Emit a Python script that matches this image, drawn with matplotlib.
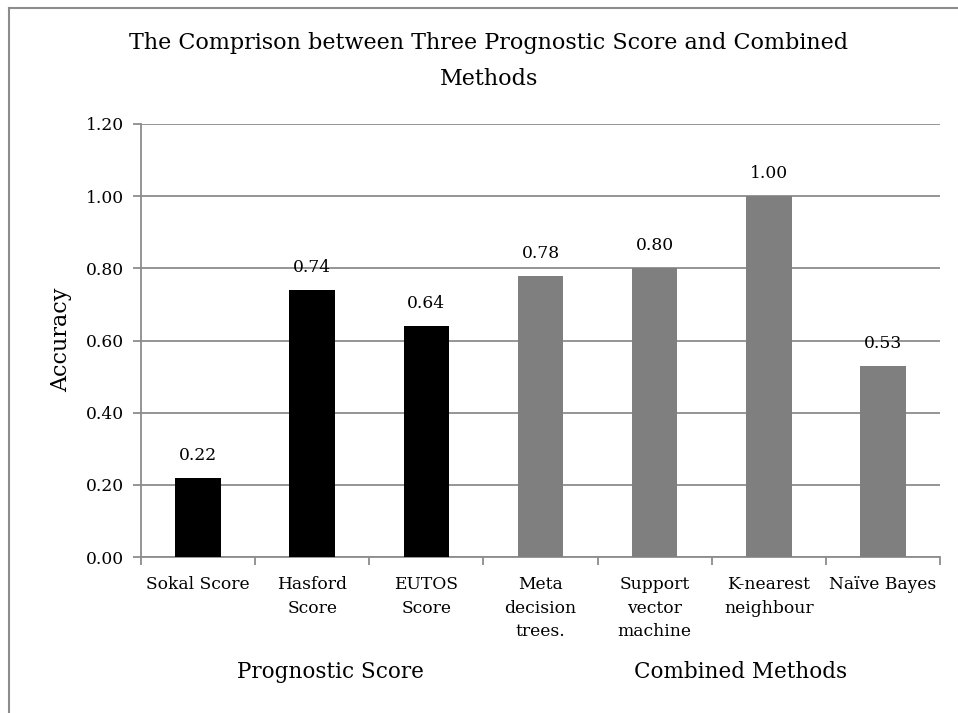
import matplotlib
matplotlib.use("Agg")
import matplotlib.pyplot as plt
from matplotlib.lines import Line2D

# accuracy of each method
categories = ["Sokal Score", "Hasford\nScore", "EUTOS\nScore", "Meta\ndecision\ntrees.",
              "Support\nvector\nmachine", "K-nearest\nneighbour", "Naïve Bayes"]
accuracy = [0.22, 0.74, 0.64, 0.78, 0.80, 1.00, 0.53]
groups = ["Prognostic Score", "Prognostic Score", "Prognostic Score",
          "Combined Methods", "Combined Methods", "Combined Methods", "Combined Methods"]
group_colors = {"Prognostic Score": "#000000", "Combined Methods": "#7f7f7f"}
yticks = [0.0, 0.2, 0.4, 0.6, 0.8, 1.0, 1.2]

plt.rcParams["font.family"] = ["DejaVu Serif"]
W, H = 958, 713
fig = plt.figure(figsize=(W / 100, H / 100), dpi=100)
ax = fig.add_axes([141 / W, 1 - 557 / H, (940 - 141) / W, (557 - 124) / H])

grid_c = "#8c8c8c"
x = list(range(len(categories)))
colors = [group_colors[g] for g in groups]
bars = ax.bar(x, accuracy, width=0.40, color=colors, zorder=3)
for b, v in zip(bars, accuracy):
    ax.annotate(f"{v:.2f}", (b.get_x() + b.get_width() / 2, v), xytext=(0, 10),
                textcoords="offset points", ha="center", va="bottom", fontsize=12.3)

ax.set_xlim(-0.5, len(categories) - 0.5)
ax.set_ylim(0, 1.2)
ax.set_yticks(yticks)
ax.set_yticklabels([f"{t:.2f}" for t in yticks], fontsize=12.3)
ax.yaxis.grid(True, color=grid_c, lw=1.3, zorder=0)
ax.tick_params(axis="y", length=6, color=grid_c, width=1.3, pad=6)

# category labels between boundary ticks
ax.set_xticks(x)
ax.set_xticklabels(categories, fontsize=12.3, linespacing=1.5)
ax.tick_params(axis="x", length=0, pad=14)
ax.set_xticks([i - 0.5 for i in range(len(categories) + 1)], minor=True)
ax.tick_params(axis="x", which="minor", length=6, color=grid_c, width=1.3)

for s in ["top", "right"]:
    ax.spines[s].set_visible(False)
for s in ["left", "bottom"]:
    ax.spines[s].set_color(grid_c)
    ax.spines[s].set_linewidth(1.3)

ax.set_ylabel("Accuracy", fontsize=16, va="center")
ax.yaxis.set_label_coords(61 / W, 1 - 340 / H, transform=fig.transFigure)

fig.text(489 / W, 1 - 43 / H, "The Comprison between Three Prognostic Score and Combined",
         ha="center", va="center", fontsize=16)
fig.text(489 / W, 1 - 79 / H, "Methods", ha="center", va="center", fontsize=16)
fig.text(330 / W, 1 - 672 / H, "Prognostic Score", ha="center", va="center", fontsize=15.5)
fig.text(741 / W, 1 - 672 / H, "Combined Methods", ha="center", va="center", fontsize=15.5)

# chart frame
fig.add_artist(Line2D([9 / W, 9 / W], [0, 1 - 8 / H], color=grid_c, lw=1.5))
fig.add_artist(Line2D([9 / W, 1], [1 - 8 / H, 1 - 8 / H], color=grid_c, lw=1.5))

fig.savefig("out.png", dpi=100)
